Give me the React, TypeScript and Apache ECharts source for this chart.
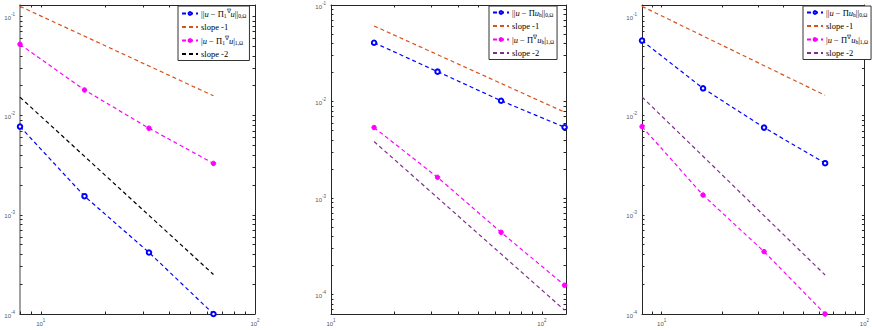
import React, { useEffect, useRef } from "react";
import * as echarts from "echarts";

// ---------- data ----------
const h1 = [8, 16, 32, 64];
const h2 = [16, 32, 64, 128];
const slopeX1 = [8, 64];
const slopeX2 = [16, 128];

const p1L2 = [7.74e-3, 1.54e-3, 4.17e-4, 1.0e-4];
const p1Slope1 = [0.126, 0.0158];
const p1H1 = [0.0522, 0.0181, 7.45e-3, 3.29e-3];
const p1Slope2 = [0.0153, 2.5e-4];

const p2L2 = [0.0407, 0.0204, 0.0102, 5.42e-3];
const p2Slope1 = [0.0607, 7.76e-3];
const p2H1 = [5.38e-3, 1.64e-3, 4.42e-4, 1.25e-4];
const p2Slope2 = [3.85e-3, 6.9e-5];

const p3L2 = [0.0569, 0.0188, 7.56e-3, 3.31e-3];
const p3Slope1 = [0.126, 0.016];
const p3H1 = [7.74e-3, 1.58e-3, 4.25e-4, 1.0e-4];
const p3Slope2 = [0.0154, 2.47e-4];

const xRange1 = [8, 100];
const yRange1 = [1e-4, 0.13];
const xRange2 = [10, 130];
const yRange2 = [6.3e-5, 0.1];
const xRange3 = [8, 100];
const yRange3 = [1e-4, 0.13];

const xMajor = [10, 100];
const yMajor = [1e-4, 1e-3, 1e-2, 1e-1];

// legend labels (rich text)
const legendText: Record<string, string> = {
  p1a: "{t|||}{i|u}{t| − Π}{sub|1}{sup|∇}{i|u}{t|||}{sub|0,Ω}",
  p1b: "{t|slope -1}",
  p1c: "{t||}{i|u}{t| − Π}{sub|1}{sup|∇}{i|u}{t||}{sub|1,Ω}",
  p1d: "{t|slope -2}",
  p2a: "{t|||}{i|u}{t| − Π}{i|u}{sub|h}{t|||}{sub|0,Ω}",
  p2b: "{t|slope -1}",
  p2c: "{t||}{i|u}{t| − Π}{sup|∇}{i|u}{sub|h}{t||}{sub|1,Ω}",
  p2d: "{t|slope -2}",
  p3a: "{t|||}{i|u}{t| − Π}{i|u}{sub|h}{t|||}{sub|0,Ω}",
  p3b: "{t|slope -1}",
  p3c: "{t||}{i|u}{t| − Π}{sup|∇}{i|u}{sub|h}{t||}{sub|1,Ω}",
  p3d: "{t|slope -2}",
};

const BLUE = "#0000ff";
const ORANGE = "#D95319";
const MAGENTA = "#ff00ff";
const BLACK = "#000000";
const PURPLE = "#7E2F8E";

function minorTicks(lo: number, hi: number): number[] {
  const out: number[] = [];
  for (let e = -6; e <= 3; e++) {
    for (let m = 1; m <= 9; m++) {
      const v = m * Math.pow(10, e);
      if (v >= lo * 0.9999 && v <= hi * 1.0001) out.push(v);
    }
  }
  return out;
}

const pow10Label = (v: number) => {
  const e = Math.round(Math.log10(v));
  return "{b|10}{s|" + e + "}";
};

const labelRich = {
  b: { fontSize: 6, color: "#555", fontFamily: "Liberation Sans", verticalAlign: "bottom", lineHeight: 9 },
  s: { fontSize: 4.5, color: "#555", fontFamily: "Liberation Sans", verticalAlign: "top", lineHeight: 5 },
};

const AX = "#262626";

function makeAxes(
  gi: number,
  xr: number[],
  yr: number[],
  leftColor: string,
  leftWidth: number
) {
  const common = { type: "log", logBase: 10, gridIndex: gi, splitLine: { show: false } };
  const xTicks = minorTicks(xr[0], xr[1]);
  const yTicks = minorTicks(yr[0], yr[1]);
  const xs = [
    {
      ...common,
      min: xr[0],
      max: xr[1],
      position: "bottom",
      axisLine: { show: true, onZero: false, lineStyle: { color: AX, width: 1 } },
      axisTick: { show: true, inside: true, length: 2.5, customValues: xTicks, lineStyle: { color: AX } },
      axisLabel: {
        show: true,
        customValues: xMajor,
        margin: 4,
        formatter: pow10Label,
        rich: labelRich,
      },
    },
    {
      ...common,
      min: xr[0],
      max: xr[1],
      position: "top",
      axisLine: { show: true, onZero: false, lineStyle: { color: AX, width: 1 } },
      axisTick: { show: true, inside: true, length: 2.5, customValues: xTicks, lineStyle: { color: AX } },
      axisLabel: { show: false },
    },
  ];
  const ys = [
    {
      ...common,
      min: yr[0],
      max: yr[1],
      position: "left",
      axisLine: { show: true, onZero: false, lineStyle: { color: leftColor, width: leftWidth } },
      axisTick: { show: true, inside: true, length: 2.5, customValues: yTicks, lineStyle: { color: AX } },
      axisLabel: {
        show: true,
        customValues: yMajor,
        margin: 5,
        formatter: pow10Label,
        rich: labelRich,
      },
    },
    {
      ...common,
      min: yr[0],
      max: yr[1],
      position: "right",
      axisLine: { show: true, onZero: false, lineStyle: { color: AX, width: 1 } },
      axisTick: { show: true, inside: true, length: 2.5, customValues: yTicks, lineStyle: { color: AX } },
      axisLabel: { show: false },
    },
  ];
  return { xs, ys };
}

function pairs(xs: number[], ys: number[]) {
  return xs.map((x, i) => [x, ys[i]]);
}

function lineSeries(
  name: string,
  axisIdx: number,
  data: number[][],
  color: string,
  symbol: string
) {
  return {
    type: "line",
    name,
    xAxisIndex: axisIdx,
    yAxisIndex: axisIdx,
    data,
    clip: false,
    color,
    symbol,
    symbolSize: symbol === "none" ? 0 : 4.5,
    showSymbol: symbol !== "none",
    lineStyle: { color, width: 1.2, type: [4, 3] },
    itemStyle: { color, borderColor: color, borderWidth: 1 },
    emphasis: { disabled: true },
  };
}

function makeLegend(names: string[], left: number) {
  return {
    show: true,
    data: names.map((n, i) =>
      i % 2 === 1 ? { name: n, itemStyle: { opacity: 0 } } : { name: n }
    ),
    orient: "vertical",
    left,
    top: 6,
    itemWidth: 16,
    itemHeight: 3.5,
    itemGap: 3.5,
    padding: [2, 3, 2, 3],
    backgroundColor: "#ffffff",
    borderColor: "#333333",
    borderWidth: 1,
    borderRadius: 0,
    selectedMode: false,
    formatter: (n: string) => legendText[n],
    textStyle: {
      padding: [0, 0, 0, -2],
      rich: {
        t: { fontSize: 8.5, fontFamily: "Liberation Serif", color: "#000", lineHeight: 11, verticalAlign: "middle" },
        i: { fontSize: 8.5, fontFamily: "Liberation Serif", fontStyle: "italic", color: "#000", lineHeight: 11, verticalAlign: "middle" },
        sub: { fontSize: 5.5, fontFamily: "Liberation Serif", color: "#000", verticalAlign: "bottom", lineHeight: 6 },
        sup: { fontSize: 5.5, fontFamily: "Liberation Serif", color: "#000", verticalAlign: "top", lineHeight: 6 },
      },
    },
  };
}

export default function App() {
  const ref = useRef<HTMLDivElement>(null);
  useEffect(() => {
    if (!ref.current) return;
    const chart = echarts.init(ref.current, undefined, { renderer: "svg" });
    const a1 = makeAxes(0, xRange1, yRange1, "#8a8a8a", 1.6);
    const a2 = makeAxes(1, xRange2, yRange2, AX, 1);
    const a3 = makeAxes(2, xRange3, yRange3, AX, 1);
    const option: any = {
      animation: false,
      backgroundColor: "#ffffff",
      grid: [
        { left: 20, top: 5, width: 235, height: 309 },
        { left: 331, top: 5, width: 235, height: 309 },
        { left: 642, top: 5, width: 235, height: 309 },
      ],
      xAxis: [...a1.xs, ...a2.xs, ...a3.xs],
      yAxis: [...a1.ys, ...a2.ys, ...a3.ys],
      legend: [
        makeLegend(["p1a", "p1b", "p1c", "p1d"], 178),
        makeLegend(["p2a", "p2b", "p2c", "p2d"], 489),
        makeLegend(["p3a", "p3b", "p3c", "p3d"], 803),
      ],
      series: [
        lineSeries("p1a", 0, pairs(h1, p1L2), BLUE, "emptyCircle"),
        lineSeries("p1b", 0, pairs(slopeX1, p1Slope1), ORANGE, "none"),
        lineSeries("p1c", 0, pairs(h1, p1H1), MAGENTA, "circle"),
        lineSeries("p1d", 0, pairs(slopeX1, p1Slope2), BLACK, "none"),
        lineSeries("p2a", 2, pairs(h2, p2L2), BLUE, "emptyCircle"),
        lineSeries("p2b", 2, pairs(slopeX2, p2Slope1), ORANGE, "none"),
        lineSeries("p2c", 2, pairs(h2, p2H1), MAGENTA, "circle"),
        lineSeries("p2d", 2, pairs(slopeX2, p2Slope2), PURPLE, "none"),
        lineSeries("p3a", 4, pairs(h1, p3L2), BLUE, "emptyCircle"),
        lineSeries("p3b", 4, pairs(slopeX1, p3Slope1), ORANGE, "none"),
        lineSeries("p3c", 4, pairs(h1, p3H1), MAGENTA, "circle"),
        lineSeries("p3d", 4, pairs(slopeX1, p3Slope2), PURPLE, "none"),
      ],
    };
    chart.setOption(option);
    return () => chart.dispose();
  }, []);
  return (
    <div
      ref={ref}
      style={{ position: "absolute", left: 0, top: 0, width: 872, height: 330, background: "#fff" }}
    />
  );
}
